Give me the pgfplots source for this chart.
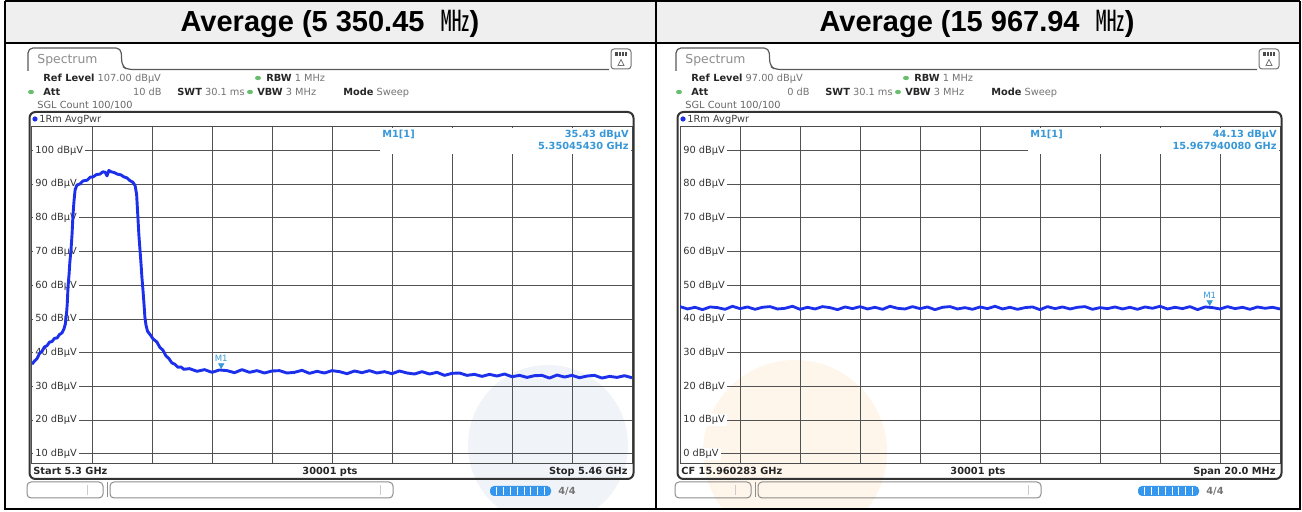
\documentclass[border=0pt]{standalone}
\usepackage{fontspec}
\setmainfont{DejaVu Sans}
\newfontfamily\titlefont{Liberation Sans}
\newfontfamily\cjk{Noto Sans CJK KR}
\usepackage{pgfplots}
\pgfplotsset{compat=1.18}

\definecolor{trace}{RGB}{28,48,235}
\definecolor{mkblue}{RGB}{56,152,215}
\definecolor{hdrgray}{RGB}{239,239,239}
\definecolor{uigreen}{RGB}{104,190,110}
\definecolor{barblue}{RGB}{52,150,236}
\definecolor{wmgray}{RGB}{240,243,247}
\definecolor{wmpeach}{RGB}{254,245,235}

\newcommand\uif{\fontsize{4.9}{5.9}\selectfont}

\pgfplotsset{
  rsaxis/.style={
    scale only axis, width=300pt, height=168.5pt, anchor=south west,
    axis line style={black!70, line width=0.5pt},
    major tick length=0pt,
    grid=major, major grid style={black!68, line width=0.5pt},
    xticklabels={},
    yticklabel style={anchor=west, xshift=0.25pt, fill=white, inner xsep=1.2pt,
      inner ysep=0.6pt, font=\uif, text=black!80},
  },
}

\tikzset{
  ui/.style={anchor=base west, inner sep=0pt, font=\uif},
  uir/.style={anchor=base east, inner sep=0pt, font=\uif},
}

% screen furniture of one analyser window, in pixel units
\newcommand{\rsui}[6]{%
  \draw[black!65, line width=0.6pt, rounded corners=2.5pt]
    (28,71) -- (28,48) -- (121,48) -- (122,66) -- (127,69.5) -- (609,69.5);
  \node[anchor=base west, inner sep=0pt, text=black!45,
    font=\fontsize{6.2}{7}\selectfont] at (37,63.5) {Spectrum};
  \draw[black!55, line width=0.5pt, rounded corners=1.5pt, fill=white]
    (611,49) rectangle (631,69);
  \fill[black!70] (615,52) rectangle (627,56.5);
  \draw[white, line width=0.3pt] (618,52)--(618,56.5) (621,52)--(621,56.5) (624,52)--(624,56.5);
  \draw[black!55, line width=0.35pt] (618,65.5) -- (621,59.5) -- (624,65.5) -- cycle;
  % settings
  \node[ui] at (43,81.5) {{\color{black!85}\bfseries Ref Level} {\color{black!55}#1 dBµV}};
  \fill[uigreen] (258,78) ellipse (1.5pt and 1.1pt);
  \node[ui] at (266,81.5) {{\color{black!85}\bfseries RBW} {\color{black!55}1 MHz}};
  \fill[uigreen] (31,92) ellipse (1.5pt and 1.1pt);
  \node[ui] at (43,95.5) {{\color{black!85}\bfseries Att}};
  \node[uir, text=black!55] at (162,95.5) {#2 dB};
  \node[ui] at (177,95.5) {{\color{black!85}\bfseries SWT} {\color{black!55}30.1 ms}};
  \fill[uigreen] (250,92) ellipse (1.5pt and 1.1pt);
  \node[ui] at (257,95.5) {{\color{black!85}\bfseries VBW} {\color{black!55}3 MHz}};
  \node[ui] at (343,95.5) {{\color{black!85}\bfseries Mode} {\color{black!55}Sweep}};
  \node[ui, text=black!60] at (37,108.5) {SGL Count 100/100};
  % window
  \draw[black!80, line width=1pt, rounded corners=3pt] (29.5,112) rectangle (633.5,479);
  \fill[trace] (35,119) circle (1.3pt);
  \node[ui, text=black!75] at (39,122.5) {1Rm AvgPwr};
  % marker readout
  \fill[white] (380,127.7) rectangle (631.3,154);
  \node[ui, text=mkblue, font=\uif\bfseries] at (382,137.5) {M1[1]};
  \node[uir, text=mkblue, font=\uif\bfseries] at (629,137.5) {#3 dBµV};
  \node[uir, text=mkblue, font=\uif\bfseries] at (629,149.5) {#4 GHz};
  % status bar
  \node[ui, text=black!85, font=\uif\bfseries] at (33,474.5) {#5};
  \node[anchor=base, inner sep=0pt, text=black!85, font=\uif\bfseries] at (330,474.5) {30001 pts};
  \node[uir, text=black!85, font=\uif\bfseries] at (628,474.5) {#6};
  % soft keys
  \draw[black!45, line width=0.5pt, rounded corners=2pt] (27,482) rectangle (103,498);
  \draw[black!20, line width=0.4pt] (87,485) -- (87,495);
  \draw[black!45, line width=0.5pt] (107,482.5) -- (107,497.5);
  \draw[black!45, line width=0.5pt, rounded corners=2pt] (110,482) rectangle (393,498);
  \draw[black!20, line width=0.4pt] (380,485) -- (380,495);
  \fill[barblue, rounded corners=2pt] (490,486) rectangle (551,496);
  \foreach \s in {496.8,503.6,510.4,517.2,524,530.8,537.6,544.4}
    \draw[white, line width=0.35pt] (\s,487) -- (\s,495);
  \node[anchor=center, inner sep=0pt, text=black!55, font=\uif\bfseries] at (567,491) {4/4};
}

\begin{document}
\begin{tikzpicture}
\path[use as bounding box] (0,0) rectangle (651pt,-256pt);

\begin{scope}[x=0.5pt,y=-0.5pt]
  \begin{scope}
    \clip (6,45) rectangle (655,509);
    \fill[wmgray] (548,445) circle (40pt);
  \end{scope}
  \begin{scope}
    \clip (658,45) rectangle (1299,509);
    \fill[wmpeach] (795,452) circle (46pt);
  \end{scope}
\end{scope}

% 5.30 - 5.46 GHz, frequency in GHz, level in dBuV
\begin{axis}[rsaxis, at={(16pt,-232pt)},
  xmin=5.30, xmax=5.46, ymin=7, ymax=107,
  xtick={5.316,5.332,5.348,5.364,5.38,5.396,5.412,5.428,5.444},
  ytick={10,20,...,100},
  yticklabels={10 dBµV,20 dBµV,30 dBµV,40 dBµV,50 dBµV,60 dBµV,70 dBµV,80 dBµV,90 dBµV,100 dBµV},
]
\addplot[trace, line width=1.45pt, line join=round] coordinates {
(5.3000,36.6) (5.3007,37.6) (5.3013,38.2) (5.3020,39.8) (5.3027,40.5) (5.3033,41.7)
(5.3040,42.1) (5.3047,43.2) (5.3053,43.3) (5.3060,44.3) (5.3067,44.4) (5.3073,45.4)
(5.3080,45.9) (5.3085,47.0) (5.3089,48.6) (5.3092,51.5) (5.3094,54.5) (5.3096,59.5)
(5.3099,63.5) (5.3101,67.0) (5.3104,70.5) (5.3107,75.5) (5.3109,80.4) (5.3112,85.0)
(5.3115,88.4) (5.3120,89.8) (5.3128,90.1) (5.3136,91.0) (5.3147,91.2) (5.3155,92.1)
(5.3163,92.2) (5.3172,92.9) (5.3181,93.0) (5.3189,93.7) (5.3195,93.6) (5.3200,92.5)
(5.3205,94.1) (5.3211,93.7) (5.3219,93.5) (5.3228,93.0) (5.3237,92.8) (5.3245,92.2)
(5.3253,91.9) (5.3261,91.1) (5.3269,90.6) (5.3275,89.6) (5.3279,87.0) (5.3281,83.0)
(5.3283,79.0) (5.3285,75.0) (5.3288,70.5) (5.3291,66.0) (5.3293,62.5) (5.3296,58.5)
(5.3299,54.0) (5.3301,50.6) (5.3304,48.2) (5.3308,46.4) (5.3315,45.4) (5.3323,44.1)
(5.3333,43.2) (5.3341,41.6) (5.3349,40.8) (5.3357,39.1) (5.3365,38.3) (5.3373,37.0)
(5.3381,36.6) (5.3389,35.7) (5.3397,35.8) (5.3405,35.1) (5.3413,35.2)
(5.342,35.3) (5.344,34.5) (5.346,35.0) (5.348,34.2) (5.350,34.9) (5.352,34.7)
(5.354,34.1) (5.356,35.0) (5.358,34.2) (5.360,34.7) (5.362,34.0) (5.364,34.6)
(5.366,34.7) (5.368,34.0) (5.370,34.2) (5.372,34.8) (5.374,33.9) (5.376,34.5)
(5.378,34.0) (5.380,34.7) (5.382,34.4) (5.384,33.8) (5.386,34.6) (5.388,34.1)
(5.390,34.7) (5.392,34.0) (5.394,34.4) (5.396,33.8) (5.398,34.6) (5.400,34.0)
(5.402,33.7) (5.404,34.4) (5.406,33.7) (5.408,34.2) (5.410,33.3) (5.412,33.9)
(5.414,34.0) (5.416,33.3) (5.418,33.6) (5.420,33.0) (5.422,33.6) (5.424,33.1)
(5.426,33.7) (5.428,32.9) (5.430,33.3) (5.432,32.7) (5.434,33.2) (5.436,33.3)
(5.438,32.5) (5.440,33.4) (5.442,32.8) (5.444,33.3) (5.446,32.6) (5.448,33.1)
(5.450,33.3) (5.452,32.5) (5.454,33.0) (5.456,32.7) (5.458,33.2) (5.460,32.6)
};
\addplot[mkblue, only marks, mark=triangle*, mark size=1.5pt,
  mark options={yshift=1.5pt, rotate=180}] coordinates {(5.3504543,35.43)};
\node[anchor=south, inner sep=0pt, yshift=3pt, text=mkblue, font=\fontsize{4.3}{5}\selectfont]
  at (axis cs:5.3504543,35.43) {M1};
\end{axis}

% span 20 MHz round CF 15.960283 GHz, offset from CF in MHz
\begin{axis}[rsaxis, at={(340pt,-232pt)},
  xmin=-10, xmax=10, ymin=-3, ymax=97,
  xtick={-8,-6,-4,-2,0,2,4,6,8},
  ytick={0,10,...,90},
  yticklabels={0 dBµV,10 dBµV,20 dBµV,30 dBµV,40 dBµV,50 dBµV,60 dBµV,70 dBµV,80 dBµV,90 dBµV},
]
\addplot[trace, line width=1.4pt, line join=round] coordinates {
(-10.00,43.7) (-9.75,43.0) (-9.50,43.5) (-9.25,42.8) (-9.00,43.6) (-8.75,43.4)
(-8.50,42.9) (-8.25,43.8) (-8.00,43.1) (-7.75,43.6) (-7.50,42.9) (-7.25,43.5)
(-7.00,43.7) (-6.75,43.0) (-6.50,43.2) (-6.25,43.8) (-6.00,42.9) (-5.75,43.5)
(-5.50,43.0) (-5.25,43.7) (-5.00,43.4) (-4.75,42.8) (-4.50,43.6) (-4.25,43.1)
(-4.00,43.7) (-3.75,43.0) (-3.50,43.5) (-3.25,42.9) (-3.00,43.8) (-2.75,43.2)
(-2.50,43.0) (-2.25,43.7) (-2.00,43.1) (-1.75,43.6) (-1.50,42.8) (-1.25,43.5)
(-1.00,43.7) (-0.75,43.0) (-0.50,43.4) (-0.25,42.9) (0.00,43.6) (0.25,43.1)
(0.50,43.8) (0.75,43.0) (1.00,43.5) (1.25,42.9) (1.50,43.4) (1.75,43.6)
(2.00,42.8) (2.25,43.7) (2.50,43.1) (2.75,43.6) (3.00,43.0) (3.25,43.5)
(3.50,43.7) (3.75,42.9) (4.00,43.4) (4.25,43.1) (4.50,43.6) (4.75,43.0)
(5.00,43.5) (5.25,42.9) (5.50,43.6) (5.75,43.2) (6.00,43.8) (6.25,43.0)
(6.50,43.5) (6.75,43.1) (7.00,43.7) (7.25,42.8) (7.50,43.6) (7.75,43.4)
(8.00,43.0) (8.25,43.7) (8.50,43.1) (8.75,43.5) (9.00,42.9) (9.25,43.6)
(9.50,43.2) (9.75,43.5) (10.00,43.0)
};
\addplot[mkblue, only marks, mark=triangle*, mark size=1.5pt,
  mark options={yshift=1.5pt, rotate=180}] coordinates {(7.65708,44.13)};
\node[anchor=south, inner sep=0pt, yshift=3pt, text=mkblue, font=\fontsize{4.3}{5}\selectfont]
  at (axis cs:7.65708,44.13) {M1};
\end{axis}

\begin{scope}[x=0.5pt,y=-0.5pt]
  % table frame and header row
  \fill[hdrgray] (5,2) rectangle (1300,43);
  \draw[black, line width=1pt] (5,1.5) -- (1300,1.5);
  \draw[black, line width=1pt] (5,43.5) -- (1300,43.5);
  \draw[black, line width=1pt] (5,509.5) -- (1300,509.5);
  \draw[black, line width=1pt] (5,1) -- (5,510);
  \draw[black, line width=1pt] (656,1) -- (656,510);
  \draw[black, line width=0.8pt] (1300,1) -- (1300,510);
  \node[anchor=base, inner sep=0pt, font=\titlefont\bfseries\fontsize{14.5}{17}\selectfont]
    at (330,31.5) {Average (5 350.45\ \ {\cjk\mdseries ㎒})};
  \node[anchor=base, inner sep=0pt, font=\titlefont\bfseries\fontsize{14.5}{17}\selectfont]
    at (977,31.5) {Average (15 967.94\ \ {\cjk\mdseries ㎒})};
  \rsui{107.00}{10}{35.43}{5.35045430}{Start 5.3 GHz}{Stop 5.46 GHz}
  \begin{scope}[xshift=324pt]
    \rsui{97.00}{0}{44.13}{15.967940080}{CF 15.960283 GHz}{Span 20.0 MHz}
  \end{scope}
\end{scope}
\end{tikzpicture}
\end{document}
